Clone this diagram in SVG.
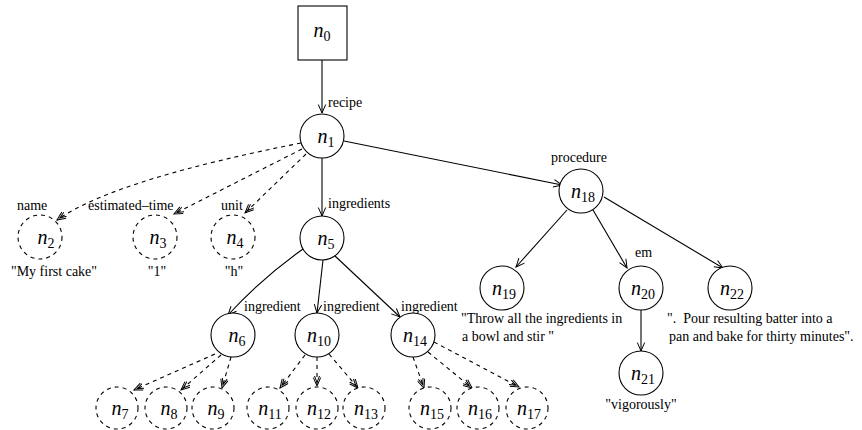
<svg xmlns="http://www.w3.org/2000/svg" width="862" height="430" viewBox="0 0 862 430">
<style>
.bg{fill:#fff}
.nd{fill:#fff;stroke:#000;stroke-width:1.1}
.dn{fill:#fff;stroke:#000;stroke-width:1.1;stroke-dasharray:4 4}
.e{fill:none;stroke:#000;stroke-width:1.1;marker-end:url(#a)}
.de{fill:none;stroke:#000;stroke-width:1.1;stroke-dasharray:4 4;marker-end:url(#ad)}
text{font-family:"Liberation Serif","Times New Roman",serif;fill:#000}
.t{font-size:14px}
.lb{font-size:20px;text-anchor:middle}
.n{font-style:italic}
.s{font-size:14px;font-style:normal}
</style>
<defs>
<marker id="a" markerWidth="12" markerHeight="10" refX="10" refY="5" orient="auto" markerUnits="userSpaceOnUse">
<path d="M1.5,1.3 L10,5 L1.5,8.7" fill="none" stroke="#000" stroke-width="1"/>
</marker>
<marker id="ad" markerWidth="12" markerHeight="10" refX="10" refY="5" orient="auto" markerUnits="userSpaceOnUse">
<path d="M1.5,1.3 L10,5 L1.5,8.7 M0,2.5 L6.5,5 L0,7.5" fill="none" stroke="#000" stroke-width="1" stroke-dasharray="none"/>
</marker>
</defs>
<rect class="bg" x="0" y="0" width="862" height="430"/>
<g id="connectors">
<path class="e" d="M322,60 L322,113"/>
<path class="de" d="M301,143 C190,165 100,190 57,220"/>
<path class="de" d="M302,149 L174,214"/>
<path class="de" d="M306,154 L245,213"/>
<path class="e" d="M322,158 L322,216"/>
<path class="e" d="M344,141 L562,185"/>
<path class="e" d="M303,249 Q262,278 228,315"/>
<path class="e" d="M323,260 L317,313"/>
<path class="e" d="M335,256 L400,317"/>
<path class="de" d="M215,354 L134,390"/>
<path class="de" d="M221,355 L181,390"/>
<path class="de" d="M231,357 L222,388"/>
<path class="de" d="M305,355 L280,388"/>
<path class="de" d="M317,357 L317,386"/>
<path class="de" d="M329,354 L358,388"/>
<path class="de" d="M413,357 L424,388"/>
<path class="de" d="M428,352 L472,388"/>
<path class="de" d="M434,342 L519,387"/>
<path class="e" d="M567,210 L516,267"/>
<path class="e" d="M593,210 L627,268"/>
<path class="e" d="M604,197 L723,268"/>
<path class="e" d="M641,310 L641,351"/>
<text class="t" x="328" y="107">recipe</text>
<text class="t" x="17" y="210">name</text>
<text class="t" x="88" y="210">estimated–time</text>
<text class="t" x="221" y="210">unit</text>
<text class="t" x="328" y="208">ingredients</text>
<text class="t" x="551" y="162">procedure</text>
<text class="t" x="244" y="311">ingredient</text>
<text class="t" x="323" y="311">ingredient</text>
<text class="t" x="401" y="311">ingredient</text>
<text class="t" x="635" y="257">em</text>
</g>
<g id="n0"><rect class="nd" x="298" y="6" width="49" height="54"/><text class="lb" x="322" y="37"><tspan class="n">n</tspan><tspan class="s" dy="4">0</tspan></text></g>
<g id="n1"><circle class="nd" cx="322" cy="136" r="22"/><text class="lb" x="326" y="143"><tspan class="n">n</tspan><tspan class="s" dy="4">1</tspan></text></g>
<g id="n2"><circle class="dn" cx="40" cy="237" r="22"/><text class="lb" x="46" y="244"><tspan class="n">n</tspan><tspan class="s" dy="4">2</tspan></text><text class="t" x="54" y="276" text-anchor="middle">"My first cake"</text></g>
<g id="n3"><circle class="dn" cx="155" cy="237" r="22"/><text class="lb" x="158" y="244"><tspan class="n">n</tspan><tspan class="s" dy="4">3</tspan></text><text class="t" x="157" y="276" text-anchor="middle">"1"</text></g>
<g id="n4"><circle class="dn" cx="233" cy="237" r="22"/><text class="lb" x="235" y="244"><tspan class="n">n</tspan><tspan class="s" dy="4">4</tspan></text><text class="t" x="234" y="276" text-anchor="middle">"h"</text></g>
<g id="n5"><circle class="nd" cx="322" cy="238" r="22"/><text class="lb" x="326" y="245"><tspan class="n">n</tspan><tspan class="s" dy="4">5</tspan></text></g>
<g id="n6"><circle class="nd" cx="233" cy="335" r="22"/><text class="lb" x="237" y="342"><tspan class="n">n</tspan><tspan class="s" dy="4">6</tspan></text></g>
<g id="n7"><circle class="dn" cx="117" cy="408" r="21"/><text class="lb" x="120" y="415"><tspan class="n">n</tspan><tspan class="s" dy="4">7</tspan></text></g>
<g id="n8"><circle class="dn" cx="166" cy="408" r="21"/><text class="lb" x="169" y="415"><tspan class="n">n</tspan><tspan class="s" dy="4">8</tspan></text></g>
<g id="n9"><circle class="dn" cx="213" cy="408" r="21"/><text class="lb" x="216" y="415"><tspan class="n">n</tspan><tspan class="s" dy="4">9</tspan></text></g>
<g id="n10"><circle class="nd" cx="317" cy="335" r="22"/><text class="lb" x="319" y="342"><tspan class="n">n</tspan><tspan class="s" dy="4">10</tspan></text></g>
<g id="n11"><circle class="dn" cx="268" cy="408" r="21"/><text class="lb" x="270" y="415"><tspan class="n">n</tspan><tspan class="s" dy="4">11</tspan></text></g>
<g id="n12"><circle class="dn" cx="317" cy="408" r="21"/><text class="lb" x="319" y="415"><tspan class="n">n</tspan><tspan class="s" dy="4">12</tspan></text></g>
<g id="n13"><circle class="dn" cx="364" cy="408" r="21"/><text class="lb" x="366" y="415"><tspan class="n">n</tspan><tspan class="s" dy="4">13</tspan></text></g>
<g id="n14"><circle class="nd" cx="413" cy="335" r="22"/><text class="lb" x="415" y="342"><tspan class="n">n</tspan><tspan class="s" dy="4">14</tspan></text></g>
<g id="n15"><circle class="dn" cx="430" cy="408" r="21"/><text class="lb" x="432" y="415"><tspan class="n">n</tspan><tspan class="s" dy="4">15</tspan></text></g>
<g id="n16"><circle class="dn" cx="478" cy="408" r="21"/><text class="lb" x="480" y="415"><tspan class="n">n</tspan><tspan class="s" dy="4">16</tspan></text></g>
<g id="n17"><circle class="dn" cx="527" cy="408" r="21"/><text class="lb" x="529" y="415"><tspan class="n">n</tspan><tspan class="s" dy="4">17</tspan></text></g>
<g id="n18"><circle class="nd" cx="581" cy="191" r="22"/><text class="lb" x="583" y="198"><tspan class="n">n</tspan><tspan class="s" dy="4">18</tspan></text></g>
<g id="n19"><circle class="nd" cx="502" cy="288" r="22"/><text class="lb" x="504" y="295"><tspan class="n">n</tspan><tspan class="s" dy="4">19</tspan></text><text class="t" x="461" y="323">"Throw all the ingredients in</text><text class="t" x="462" y="341">a bowl and stir "</text></g>
<g id="n20"><circle class="nd" cx="641" cy="288" r="22"/><text class="lb" x="643" y="295"><tspan class="n">n</tspan><tspan class="s" dy="4">20</tspan></text></g>
<g id="n21"><circle class="nd" cx="641" cy="373" r="22"/><text class="lb" x="643" y="380"><tspan class="n">n</tspan><tspan class="s" dy="4">21</tspan></text><text class="t" x="641" y="409" text-anchor="middle">"vigorously"</text></g>
<g id="n22"><circle class="nd" cx="730" cy="288" r="22"/><text class="lb" x="732" y="295"><tspan class="n">n</tspan><tspan class="s" dy="4">22</tspan></text><text class="t" x="667" y="323">".&#160; Pour resulting batter into a</text><text class="t" x="669" y="341">pan and bake for thirty minutes".</text></g>
</svg>
